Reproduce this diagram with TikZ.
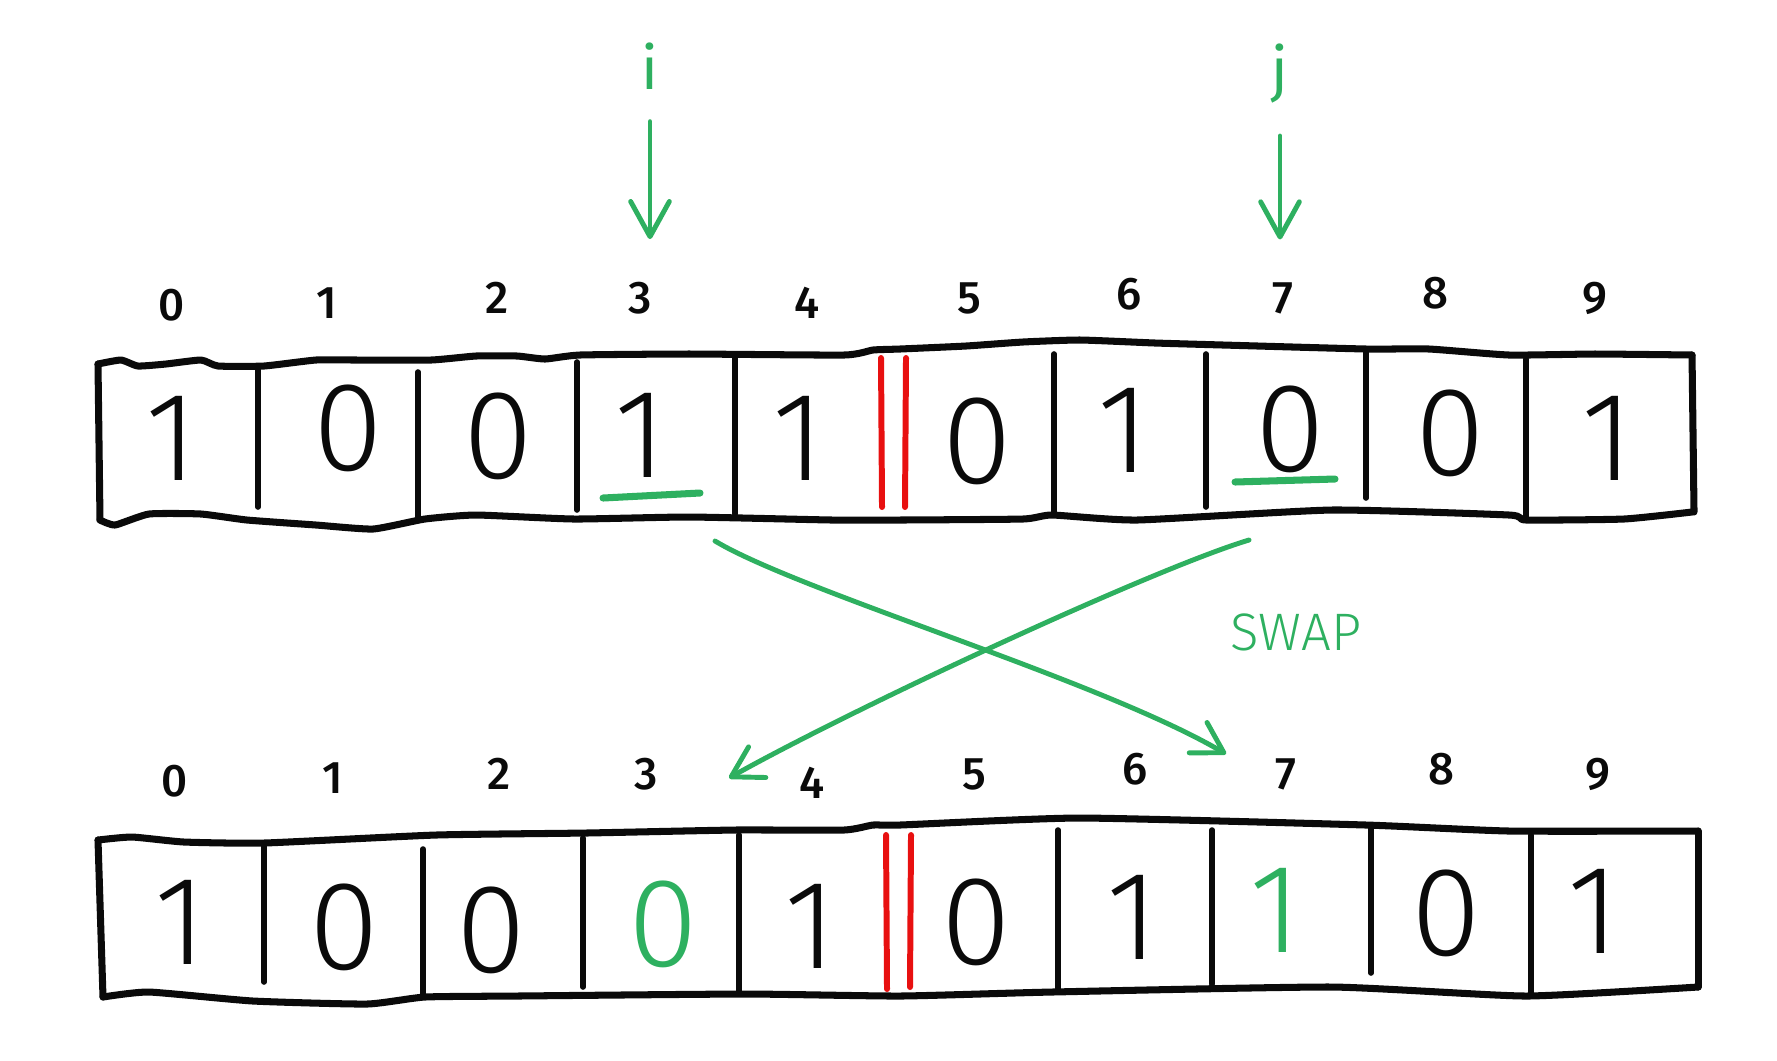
\documentclass[tikz,border=0pt]{standalone}
\usepackage{fontspec}
\setmainfont{Fira Sans}
\newfontfamily\thinfont{Fira Sans Light}
\newfontfamily\midfont{Fira Sans Medium}
\usepackage{tikz}
\usepackage{xcolor}
\usetikzlibrary{arrows.meta}
\definecolor{hwink}{HTML}{0A0A0A}
\definecolor{hwgreen}{HTML}{2EB060}
\definecolor{hwred}{HTML}{E81010}

\begin{document}
\begin{tikzpicture}[
  x=0.01cm, y=-0.01cm,
  % outer frame of both arrays: thick and a bit wobbly, as drawn by hand
  frameline/.style={line width=2pt, draw=hwink, line cap=round, line join=round},
  cellline/.style={line width=1.6pt, draw=hwink, line cap=round},
  % the red double bar splits the array in two halves
  splitline/.style={line width=1.7pt, draw=hwred, line cap=round},
  bitnum/.style={font=\thinfont\fontsize{36}{36}\selectfont, text=hwink, inner sep=0pt},
  idxnum/.style={font=\midfont\fontsize{13}{13}\selectfont, text=hwink, inner sep=0pt},
  ptrname/.style={font=\fontsize{17}{17}\selectfont, text=hwgreen, inner sep=0pt},
  ptrline/.style={line width=1.4pt, draw=hwgreen, line cap=round, -{Straight Barb[length=10pt,width=11pt,round]}},
  swapline/.style={line width=1.4pt, draw=hwgreen, line cap=round, -{Straight Barb[length=8.5pt,width=10pt,round]}},
  markline/.style={line width=2pt, draw=hwgreen, line cap=round},
]
\useasboundingbox (0,0) rectangle (1777,1060);

% top array
\draw[frameline] plot[smooth, tension=0.3] coordinates {(98,364) (121,360) (138,366) (166,364) (201,360) (218,366) (264,366) (316,360) (356,360) (431,360) (476,356) (517,356) (545,359) (580,355) (689,354) (844,355) (873,350) (900,349) (966,346) (1023,342) (1080,340) (1155,343) (1223,345) (1366,349) (1429,349) (1509,355) (1595,354) (1692,355)};
\draw[frameline] plot[smooth, tension=0.3] coordinates {(100,520) (115,525) (149,514) (201,514) (247,520) (316,525) (373,529) (425,519) (476,515) (574,519) (689,517) (832,520) (900,520) (1023,519) (1052,515) (1137,520) (1332,510) (1509,515) (1526,520) (1624,519) (1692,512)};
\draw[frameline] (98,364) -- (100,520);
\draw[frameline] (1692,355) -- (1694,512);
\foreach \x/\ya/\yb in {258/366/507, 418/372/517, 577/362/510, 735/357/514, 1054/354/515, 1206/354/507, 1366/350/498, 1526/359/519}
  \draw[cellline] (\x,\ya) -- (\x,\yb);
\draw[splitline] (881,358) -- (882,507);
\draw[splitline] (906,358) -- (905,507);

\foreach \v/\x/\y [count=\k from 0] in {1/172/438, 0/348/428, 0/498/436, 1/641/435, 1/799/438, 0/977/441, 1/1124/430, 0/1290/429, 0/1450/433, 1/1608/438}
  \node[bitnum] (t\k) at (\x,\y) {\v};
\foreach \x/\y [count=\k from 0] in {172/305, 327/303, 497/298, 640/298, 807/303, 969/298, 1129/294, 1283/298, 1435/293, 1595/298}
  \node[idxnum] (lt\k) at (\x,\y) {\k};

\draw[markline] (603,498) -- (700,493);
\draw[markline] (1235,482) -- (1335,479);

% pointers i and j
\node[ptrname] (pi) at (650,66) {i};
\node[ptrname] (pj) at (1280,74) {j};
\draw[ptrline, shorten <=9pt, shorten >=12pt] (pi) -- (pi |- lt3.north);
\draw[ptrline, shorten <=9pt, shorten >=12pt] (pj) -- (pj |- lt7.north);

% bottom array
\draw[frameline] plot[smooth, tension=0.3] coordinates {(98,840) (132,837) (184,842) (264,843) (436,835) (586,833) (735,830) (844,830) (873,825) (900,825) (1080,818) (1366,825) (1509,831) (1698,831)};
\draw[frameline] plot[smooth, tension=0.3] coordinates {(103,997) (149,992) (253,1001) (367,1004) (425,997) (517,996) (746,994) (900,996) (1052,992) (1332,987) (1526,996) (1698,987)};
\draw[frameline] (98,840) -- (103,997);
\draw[frameline] (1698,831) -- (1698,987);
\foreach \x/\ya/\yb in {264/845/982, 423/849/994, 583/838/987, 739/835/991, 1058/830/992, 1212/830/984, 1371/828/973, 1531/835/994}
  \draw[cellline] (\x,\ya) -- (\x,\yb);
\draw[splitline] (886,835) -- (887,989);
\draw[splitline] (911,835) -- (910,987);

\foreach \v/\x/\y/\c [count=\k from 0] in {1/181/922/hwink, 0/344/927/hwink, 0/491/930/hwink, 0/663/924/hwgreen, 1/811/926/hwink, 0/976/922/hwink, 1/1133/917/hwink, 1/1276/910/hwgreen, 0/1446/913/hwink, 1/1594/911/hwink}
  \node[bitnum, text=\c] (b\k) at (\x,\y) {\v};
\foreach \x/\y [count=\k from 0] in {175/781, 333/778, 499/774, 646/774, 812/783, 974/774, 1135/769, 1286/774, 1441/769, 1598/774}
  \node[idxnum] (lb\k) at (\x,\y) {\k};

% swap arrows
\coordinate (swapAfrom) at (715,541);
\coordinate (swapAto) at (1226,754);
\coordinate (swapBfrom) at (1249,540);
\coordinate (swapBto) at (729,778);
\draw[swapline] (swapAfrom) .. controls (800,592) and (1100,680) .. (swapAto);
\draw[swapline] (swapBfrom) .. controls (1150,570) and (850,710) .. (swapBto);
\node[font=\thinfont\fontsize{15}{15}\selectfont, text=hwgreen, inner sep=0pt] (swaplbl) at (1296,632) {SWAP};
\end{tikzpicture}
\end{document}
